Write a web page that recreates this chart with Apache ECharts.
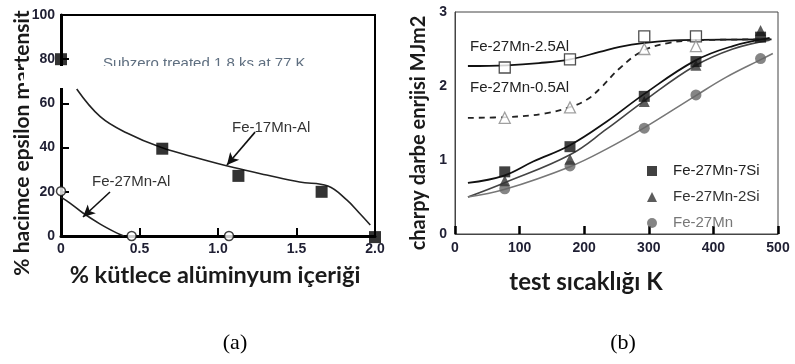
<!DOCTYPE html>
<html><head><meta charset="utf-8">
<script src="https://cdn.jsdelivr.net/npm/echarts@6/dist/echarts.min.js"></script>
<style>html,body{margin:0;padding:0;background:#fff}#c{width:795px;height:364px}</style>
</head><body><div id="c"></div>
<script>
// ---------- Chart (a) data ----------
const aXMin = 0, aXMax = 2.0, aXStep = 0.5;
const aYMin = 0, aYMax = 100, aYStep = 20;
const mn17Points = [[0, 80], [0.645, 39.5], [1.13, 27.2], [1.66, 20], [2.0, -0.5]];
const mn17Curve = [[0.10, 66.5], [0.25, 54], [0.42, 46.6], [0.64, 40], [0.885, 35], [1.10, 31], [1.31, 27.6], [1.52, 24.4], [1.70, 22.6], [1.82, 16.3], [1.90, 10.4], [1.97, 5]];
const mn27AlPoints = [[0, 20.3], [0.45, 0], [1.07, 0]];
const mn27AlCurve = [[0, 17.6], [0.057, 14.9], [0.14, 10.4], [0.25, 5.4], [0.357, 1.3], [0.40, 0]];
// ---------- Chart (b) data ----------
const bXMin = 0, bXMax = 500, bXStep = 100;
const bYMin = 0, bYMax = 3, bYStep = 1;
const temps = [77, 178, 293, 373, 473];
const al25Vals = [2.25, 2.36, 2.67, 2.67];
const al05Vals = [1.57, 1.71, 2.50, 2.54];
const si7Vals = [0.84, 1.18, 1.86, 2.33, 2.66];
const si2Vals = [0.72, 1.01, 1.79, 2.28, 2.75];
const mnVals = [0.61, 0.92, 1.43, 1.88, 2.37];
const al25Curve = [[20, 2.27], [80, 2.28], [130, 2.31], [178, 2.36], [224, 2.46], [255, 2.53], [291, 2.58], [350, 2.62], [490, 2.63]];
const al05Curve = [[20, 1.57], [80, 1.58], [140, 1.63], [180, 1.72], [205, 1.82], [225, 1.97], [255, 2.24], [290, 2.47], [330, 2.58], [380, 2.62], [490, 2.63]];
const si7Curve = [[20, 0.69], [76, 0.79], [121, 0.98], [178, 1.2], [235, 1.52], [291, 1.88], [371, 2.34], [430, 2.54], [487, 2.65]];
const si2Curve = [[20, 0.5], [76, 0.69], [178, 1.07], [235, 1.42], [293, 1.8], [371, 2.27], [430, 2.5], [487, 2.62]];
const mnCurve = [[20, 0.5], [76, 0.6], [178, 0.91], [235, 1.15], [292, 1.43], [371, 1.86], [420, 2.12], [474, 2.36], [492, 2.44]];
const legendNames = ['Fe-27Mn-7Si', 'Fe-27Mn-2Si', 'Fe-27Mn'];

const zip = (xs, ys) => ys.map((v, i) => [xs[i], v]);
const tickFont = {color: '#1f1f33', fontWeight: 'bold', fontSize: 14, fontFamily: 'Liberation Sans, Arial, sans-serif'};
const tf = s => 'bold ' + s + 'px Lato, "Open Sans", sans-serif';

const chart = echarts.init(document.getElementById('c'), null, {renderer: 'canvas'});
chart.setOption({
  animation: false,
  backgroundColor: '#fff',
  grid: [
    {left: 61, top: 15, width: 314, height: 221, show: true, borderColor: '#000', borderWidth: 2, backgroundColor: 'transparent'},
    {left: 455, top: 12, width: 323, height: 222, show: true, borderColor: '#444', borderWidth: 1, backgroundColor: 'transparent'}
  ],
  xAxis: [
    {gridIndex: 0, type: 'value', min: aXMin, max: aXMax, interval: aXStep,
     axisLine: {onZero: false, lineStyle: {color: '#000', width: 3}},
     axisTick: {inside: true, length: 8, lineStyle: {color: '#000', width: 2}},
     splitLine: {show: false},
     axisLabel: Object.assign({margin: 6, formatter: v => v === 0 ? '0' : v.toFixed(1)}, tickFont)},
    {gridIndex: 1, type: 'value', min: bXMin, max: bXMax, interval: bXStep,
     axisLine: {onZero: false, lineStyle: {color: '#444', width: 1}},
     axisTick: {inside: true, length: 8, lineStyle: {color: '#000', width: 2.5}},
     splitLine: {show: false},
     axisLabel: Object.assign({margin: 7}, tickFont)}
  ],
  yAxis: [
    {gridIndex: 0, type: 'value', min: aYMin, max: aYMax, interval: aYStep,
     axisLine: {onZero: false, lineStyle: {color: '#000', width: 3}},
     axisTick: {inside: true, length: 8, lineStyle: {color: '#000', width: 2}},
     splitLine: {show: false},
     axisLabel: Object.assign({margin: 6}, tickFont)},
    {gridIndex: 1, type: 'value', min: bYMin, max: bYMax, interval: bYStep,
     axisLine: {onZero: false, lineStyle: {color: '#444', width: 1}},
     axisTick: {show: false},
     splitLine: {show: false},
     axisLabel: Object.assign({margin: 8}, tickFont)}
  ],
  legend: {
    orient: 'vertical', left: 642, top: 158, itemWidth: 10, itemHeight: 10, itemGap: 10,
    data: [
      {name: legendNames[0], textStyle: {color: '#222'}},
      {name: legendNames[1], textStyle: {color: '#333'}},
      {name: legendNames[2], textStyle: {color: '#777'}}
    ],
    textStyle: {fontSize: 15, fontFamily: 'Liberation Sans, Arial, sans-serif', lineHeight: 16, padding: [0, 0, 0, 11]}
  },
  series: [
    // (a) curves
    {type: 'line', xAxisIndex: 0, yAxisIndex: 0, data: mn17Curve, smooth: 0.4, symbol: 'none',
     lineStyle: {color: '#222', width: 1.6}, z: 2,
     markLine: {silent: true, symbol: ['none', 'arrow'], symbolSize: [9, 12], label: {show: false},
       lineStyle: {color: '#111', width: 1.6, type: 'solid'},
       data: [[{coord: [1.236, 47]}, {coord: [1.057, 32.1]}], [{coord: [0.312, 19.9]}, {coord: [0.14, 8.6]}]]}},
    {type: 'line', xAxisIndex: 0, yAxisIndex: 0, data: mn27AlCurve, smooth: 0.4, symbol: 'none',
     lineStyle: {color: '#222', width: 1.6}, z: 2},
    {type: 'scatter', xAxisIndex: 0, yAxisIndex: 0, data: mn17Points, symbol: 'rect', symbolSize: 12, clip: false,
     itemStyle: {color: '#000'}, z: 4},
    {type: 'scatter', xAxisIndex: 0, yAxisIndex: 0, data: mn27AlPoints, symbol: 'circle', symbolSize: 9, clip: false,
     itemStyle: {color: '#fff', borderColor: '#111', borderWidth: 1.5}, z: 4},
    // (b) curves
    {type: 'line', xAxisIndex: 1, yAxisIndex: 1, data: al25Curve, smooth: 0.4, symbol: 'none',
     lineStyle: {color: '#111', width: 1.8}},
    {type: 'line', xAxisIndex: 1, yAxisIndex: 1, data: al05Curve, smooth: 0.4, symbol: 'none',
     lineStyle: {color: '#222', width: 1.8, type: [6, 5]}},
    {type: 'line', xAxisIndex: 1, yAxisIndex: 1, data: si7Curve, smooth: 0.4, symbol: 'none',
     lineStyle: {color: '#111', width: 1.8}},
    {type: 'line', xAxisIndex: 1, yAxisIndex: 1, data: si2Curve, smooth: 0.4, symbol: 'none',
     lineStyle: {color: '#444', width: 1.6}},
    {type: 'line', xAxisIndex: 1, yAxisIndex: 1, data: mnCurve, smooth: 0.4, symbol: 'none',
     lineStyle: {color: '#777', width: 1.6}},
    // (b) markers
    {type: 'scatter', xAxisIndex: 1, yAxisIndex: 1, data: zip(temps, al25Vals), symbol: 'rect', symbolSize: 11,
     itemStyle: {color: '#fff', borderColor: '#222', borderWidth: 1.3}, z: 4},
    {type: 'scatter', xAxisIndex: 1, yAxisIndex: 1, data: zip(temps, al05Vals), symbol: 'triangle', symbolSize: 11,
     itemStyle: {color: '#fff', borderColor: '#888', borderWidth: 1.3}, z: 4},
    {name: legendNames[2], type: 'scatter', xAxisIndex: 1, yAxisIndex: 1, data: zip(temps, mnVals), symbol: 'circle', symbolSize: 11,
     itemStyle: {color: '#666'}, z: 4},
    {name: legendNames[1], type: 'scatter', xAxisIndex: 1, yAxisIndex: 1, data: zip(temps, si2Vals), symbol: 'triangle', symbolSize: 11,
     itemStyle: {color: '#333'}, z: 5},
    {name: legendNames[0], type: 'scatter', xAxisIndex: 1, yAxisIndex: 1, data: zip(temps, si7Vals), symbol: 'rect', symbolSize: 11,
     itemStyle: {color: '#111'}, z: 5}
  ],
  graphic: [
    {type: 'text', x: 103, y: 56, z: 50, style: {text: 'Subzero treated 1.8 ks at 77 K', font: '15px "Liberation Sans", Arial, sans-serif', fill: '#5f6f80', textVerticalAlign: 'top', verticalAlign: 'top'}},
    {type: 'rect', z: 100, shape: {x: 24, y: 66, width: 306, height: 22}, style: {fill: '#fff'}},
    {type: 'text', x: 232, y: 128, z: 50, style: {text: 'Fe-17Mn-Al', font: '15px "Liberation Sans", Arial, sans-serif', fill: '#333', textVerticalAlign: 'middle', verticalAlign: 'middle'}},
    {type: 'text', x: 92, y: 182, z: 50, style: {text: 'Fe-27Mn-Al', font: '15px "Liberation Sans", Arial, sans-serif', fill: '#333', textVerticalAlign: 'middle', verticalAlign: 'middle'}},
    {type: 'text', x: 470, y: 47, z: 50, style: {text: 'Fe-27Mn-2.5Al', font: '15px "Liberation Sans", Arial, sans-serif', fill: '#222', textVerticalAlign: 'middle', verticalAlign: 'middle'}},
    {type: 'text', x: 470, y: 88, z: 50, style: {text: 'Fe-27Mn-0.5Al', font: '15px "Liberation Sans", Arial, sans-serif', fill: '#222', textVerticalAlign: 'middle', verticalAlign: 'middle'}},
    {type: 'text', x: 22, y: 143, rotation: Math.PI / 2, z: 50, style: {text: '% hacimce epsilon martensit', font: tf(21), fill: '#1a1a1a', textAlign: 'center', align: 'center', textVerticalAlign: 'middle', verticalAlign: 'middle'}},
    {type: 'text', x: 215, y: 275, z: 50, style: {text: '% kütlece alüminyum içeriği', font: tf(23.5), fill: '#1a1a1a', textAlign: 'center', align: 'center', textVerticalAlign: 'middle', verticalAlign: 'middle'}},
    {type: 'text', x: 419, y: 133, rotation: Math.PI / 2, z: 50, style: {text: 'charpy darbe enrjisi MJm2', font: tf(20), fill: '#1a1a1a', textAlign: 'center', align: 'center', textVerticalAlign: 'middle', verticalAlign: 'middle'}},
    {type: 'text', x: 586, y: 282, z: 50, style: {text: 'test sıcaklığı K', font: tf(24), fill: '#1a1a1a', textAlign: 'center', align: 'center', textVerticalAlign: 'middle', verticalAlign: 'middle'}},
    {type: 'text', x: 235, y: 343, z: 50, style: {text: '(a)', font: '22px "Liberation Serif", "Times New Roman", serif', fill: '#000', textAlign: 'center', align: 'center', textVerticalAlign: 'middle', verticalAlign: 'middle'}},
    {type: 'text', x: 623, y: 343, z: 50, style: {text: '(b)', font: '22px "Liberation Serif", "Times New Roman", serif', fill: '#000', textAlign: 'center', align: 'center', textVerticalAlign: 'middle', verticalAlign: 'middle'}}
  ]
});
</script></body></html>
